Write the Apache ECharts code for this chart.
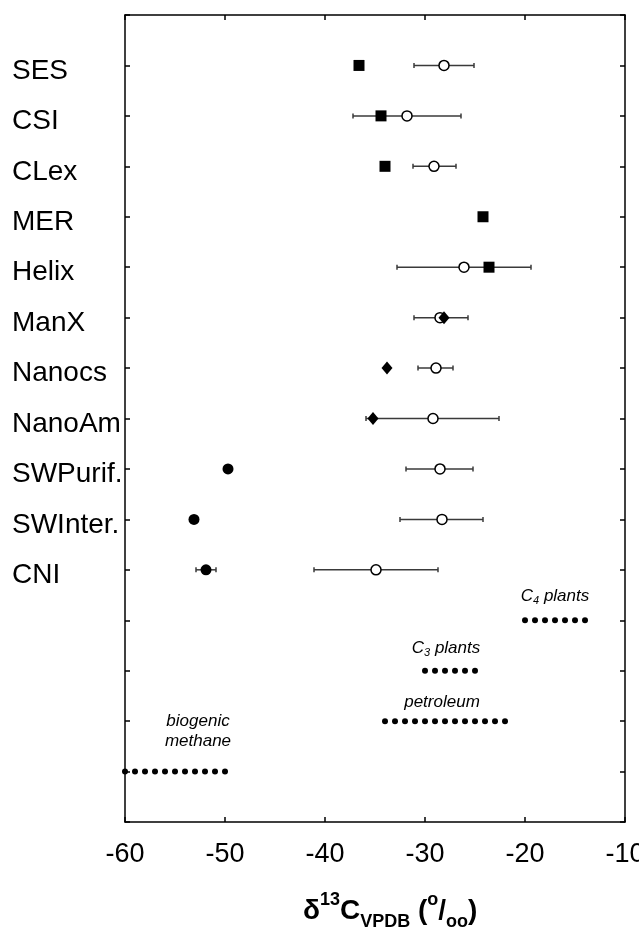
<!DOCTYPE html>
<html><head><meta charset="utf-8">
<script src="https://cdn.jsdelivr.net/npm/echarts@6/dist/echarts.min.js"></script>
<style>html,body{margin:0;padding:0;background:#fff}#c{width:639px;height:934px}</style>
</head><body><div id="c"></div>
<script>
// ---- data ----
const categories = ['SES','CSI','CLex','MER','Helix','ManX','Nanocs','NanoAm','SWPurif.','SWInter.','CNI'];
const xTicks = [-60,-50,-40,-30,-20,-10];
// open circles with error bars
const openMean = [-28.1,-31.8,-29.1,null,-26.1,-28.5,-28.9,-29.2,-28.5,-28.3,-34.9];
const openLow  = [-31.1,-37.2,-31.2,null,-32.8,-31.1,-30.7,-35.9,-31.9,-32.5,-41.1];
const openHigh = [-25.1,-26.4,-26.9,null,-19.4,-25.7,-27.2,-22.6,-25.2,-24.2,-28.7];
// filled squares
const squareVals = [-36.6,-34.4,-34.0,-24.2,-23.6,null,null,null,null,null,null];
// filled diamonds
const diamondVals = [null,null,null,null,null,-28.1,-33.8,-35.2,null,null,null];
// filled circles
const dotVals  = [null,null,null,null,null,null,null,null,-49.7,-53.1,-51.9];
const dotLow   = [null,null,null,null,null,null,null,null,null,null,-52.9];
const dotHigh  = [null,null,null,null,null,null,null,null,null,null,-50.9];
// reference ranges (rows 12..15)
const c4Dots = [-20,-19,-18,-17,-16,-15,-14];
const c3Dots = [-30,-29,-28,-27,-26,-25];
const petroleumDots = [-34,-33,-32,-31,-30,-29,-28,-27,-26,-25,-24,-23,-22];
const methaneDots = [-60,-59,-58,-57,-56,-55,-54,-53,-52,-51,-50];
const refLabels = ['{i|C}{sub|4}{i| plants}','{i|C}{sub|3}{i| plants}','{i|petroleum}','{i|biogenic}\n{i|methane}'];

// ---- build ----
const FONT = '"Liberation Sans", Arial, Helvetica, sans-serif';
const nRows = categories.length + 4;
function pts(vals){ const o=[]; vals.forEach((v,i)=>{ if(v!==null) o.push([v,i+1]); }); return o; }
function bars(lo,hi){ const o=[]; lo.forEach((v,i)=>{ if(v!==null) o.push([v,hi[i],i+1]); }); return o; }

const errRender = function(params, api){
  const y = api.value(2);
  const a = api.coord([api.value(0), y]);
  const b = api.coord([api.value(1), y]);
  const h = 2.5;
  const st = {stroke:'#3a3a3a', lineWidth:1.5};
  return {type:'group', children:[
    {type:'line', shape:{x1:a[0],y1:a[1],x2:b[0],y2:b[1]}, style:st},
    {type:'line', shape:{x1:a[0],y1:a[1]-h,x2:a[0],y2:a[1]+h}, style:st},
    {type:'line', shape:{x1:b[0],y1:b[1]-h,x2:b[0],y2:b[1]+h}, style:st}
  ]};
};

const labelStyles = [
  {offset:[0,-24]},
  {offset:[1,-22]},
  {offset:[-3,-19]},
  {offset:[23,-40]}
];
const refSets = [c4Dots, c3Dots, petroleumDots, methaneDots];
const labelIdx = [3, 2, 6, 5];
const refData = [];
refSets.forEach((arr, k) => {
  const row = categories.length + 1 + k;
  arr.forEach((v, j) => {
    const item = {value:[v,row]};
    if (j === labelIdx[k]) {
      item.label = {show:true, position:'inside', formatter: refLabels[k], offset: labelStyles[k].offset,
        rich:{
          i:{fontFamily:FONT, fontStyle:'italic', fontSize:17, color:'#000', lineHeight:20},
          sub:{fontFamily:FONT, fontStyle:'italic', fontSize:11, color:'#000', lineHeight:8, verticalAlign:'bottom'}
        }};
    }
    refData.push(item);
  });
});

const axisLineStyle = {color:'#000', width:1.5};
const option = {
  animation:false,
  backgroundColor:'#fff',
  grid:{left:125, right:14, top:15, bottom:112, containLabel:false, outerBoundsMode:'none'},
  title:{
    text:'δ{sup|13}C{sub|VPDB} ({sup|o}/{sub|oo})',
    left:298, top:886,
    textStyle:{fontFamily:FONT, fontSize:28, fontWeight:'bold', color:'#000', lineHeight:40,
      rich:{
        sup:{fontFamily:FONT, fontSize:18, fontWeight:'bold', color:'#000', lineHeight:14, verticalAlign:'top'},
        sub:{fontFamily:FONT, fontSize:18, fontWeight:'bold', color:'#000', lineHeight:10, verticalAlign:'bottom'}
      }}
  },
  xAxis:[
    {type:'value', position:'bottom', min:xTicks[0], max:xTicks[xTicks.length-1], interval:10,
     axisLine:{show:true, onZero:false, lineStyle:axisLineStyle}, axisTick:{show:true, inside:true, length:5, lineStyle:axisLineStyle},
     axisLabel:{fontFamily:FONT, fontSize:27, color:'#000', margin:19}, splitLine:{show:false}},
    {type:'value', position:'top', min:xTicks[0], max:xTicks[xTicks.length-1], interval:10,
     axisLine:{show:true, onZero:false, lineStyle:axisLineStyle}, axisTick:{show:true, inside:true, length:5, lineStyle:axisLineStyle},
     axisLabel:{show:false}, splitLine:{show:false}}
  ],
  yAxis:[
    {type:'value', position:'left', min:0, max:nRows+1, interval:1, inverse:true,
     axisLine:{show:true, onZero:false, lineStyle:axisLineStyle}, axisTick:{show:true, inside:true, length:5, lineStyle:axisLineStyle},
     axisLabel:{color:'#000', align:'left', margin:113,
       formatter:(v)=> categories[v-1] ? '{a|' + categories[v-1] + '}' : '',
       rich:{a:{fontFamily:FONT, fontSize:28, color:'#000', padding:[11,0,0,0]}}},
     splitLine:{show:false}},
    {type:'value', position:'right', min:0, max:nRows+1, interval:1, inverse:true,
     axisLine:{show:true, onZero:false, lineStyle:axisLineStyle}, axisTick:{show:true, inside:true, length:5, lineStyle:axisLineStyle},
     axisLabel:{show:false}, splitLine:{show:false}}
  ],
  series:[
    {type:'custom', name:'open err', renderItem:errRender, encode:{x:[0,1], y:2}, data:bars(openLow, openHigh), z:2},
    {type:'custom', name:'dot err', renderItem:errRender, encode:{x:[0,1], y:2}, data:bars(dotLow, dotHigh), z:2},
    {type:'scatter', name:'open', data:pts(openMean), symbol:'circle', symbolSize:10,
     itemStyle:{color:'#fff', borderColor:'#000', borderWidth:1.5, opacity:1}, z:3},
    {type:'scatter', name:'square', data:pts(squareVals), symbol:'rect', symbolSize:11,
     itemStyle:{color:'#000', opacity:1}, z:4},
    {type:'scatter', name:'diamond', data:pts(diamondVals), symbol:'diamond', symbolSize:[11,13],
     itemStyle:{color:'#000', opacity:1}, z:4},
    {type:'scatter', name:'dot', data:pts(dotVals), symbol:'circle', symbolSize:11,
     itemStyle:{color:'#000', opacity:1}, z:4},
    {type:'scatter', name:'ref', data:refData, symbol:'circle', symbolSize:6, clip:false,
     itemStyle:{color:'#000', opacity:1}, z:4}
  ]
};
const chart = echarts.init(document.getElementById('c'));
chart.setOption(option);
</script>
</body></html>
